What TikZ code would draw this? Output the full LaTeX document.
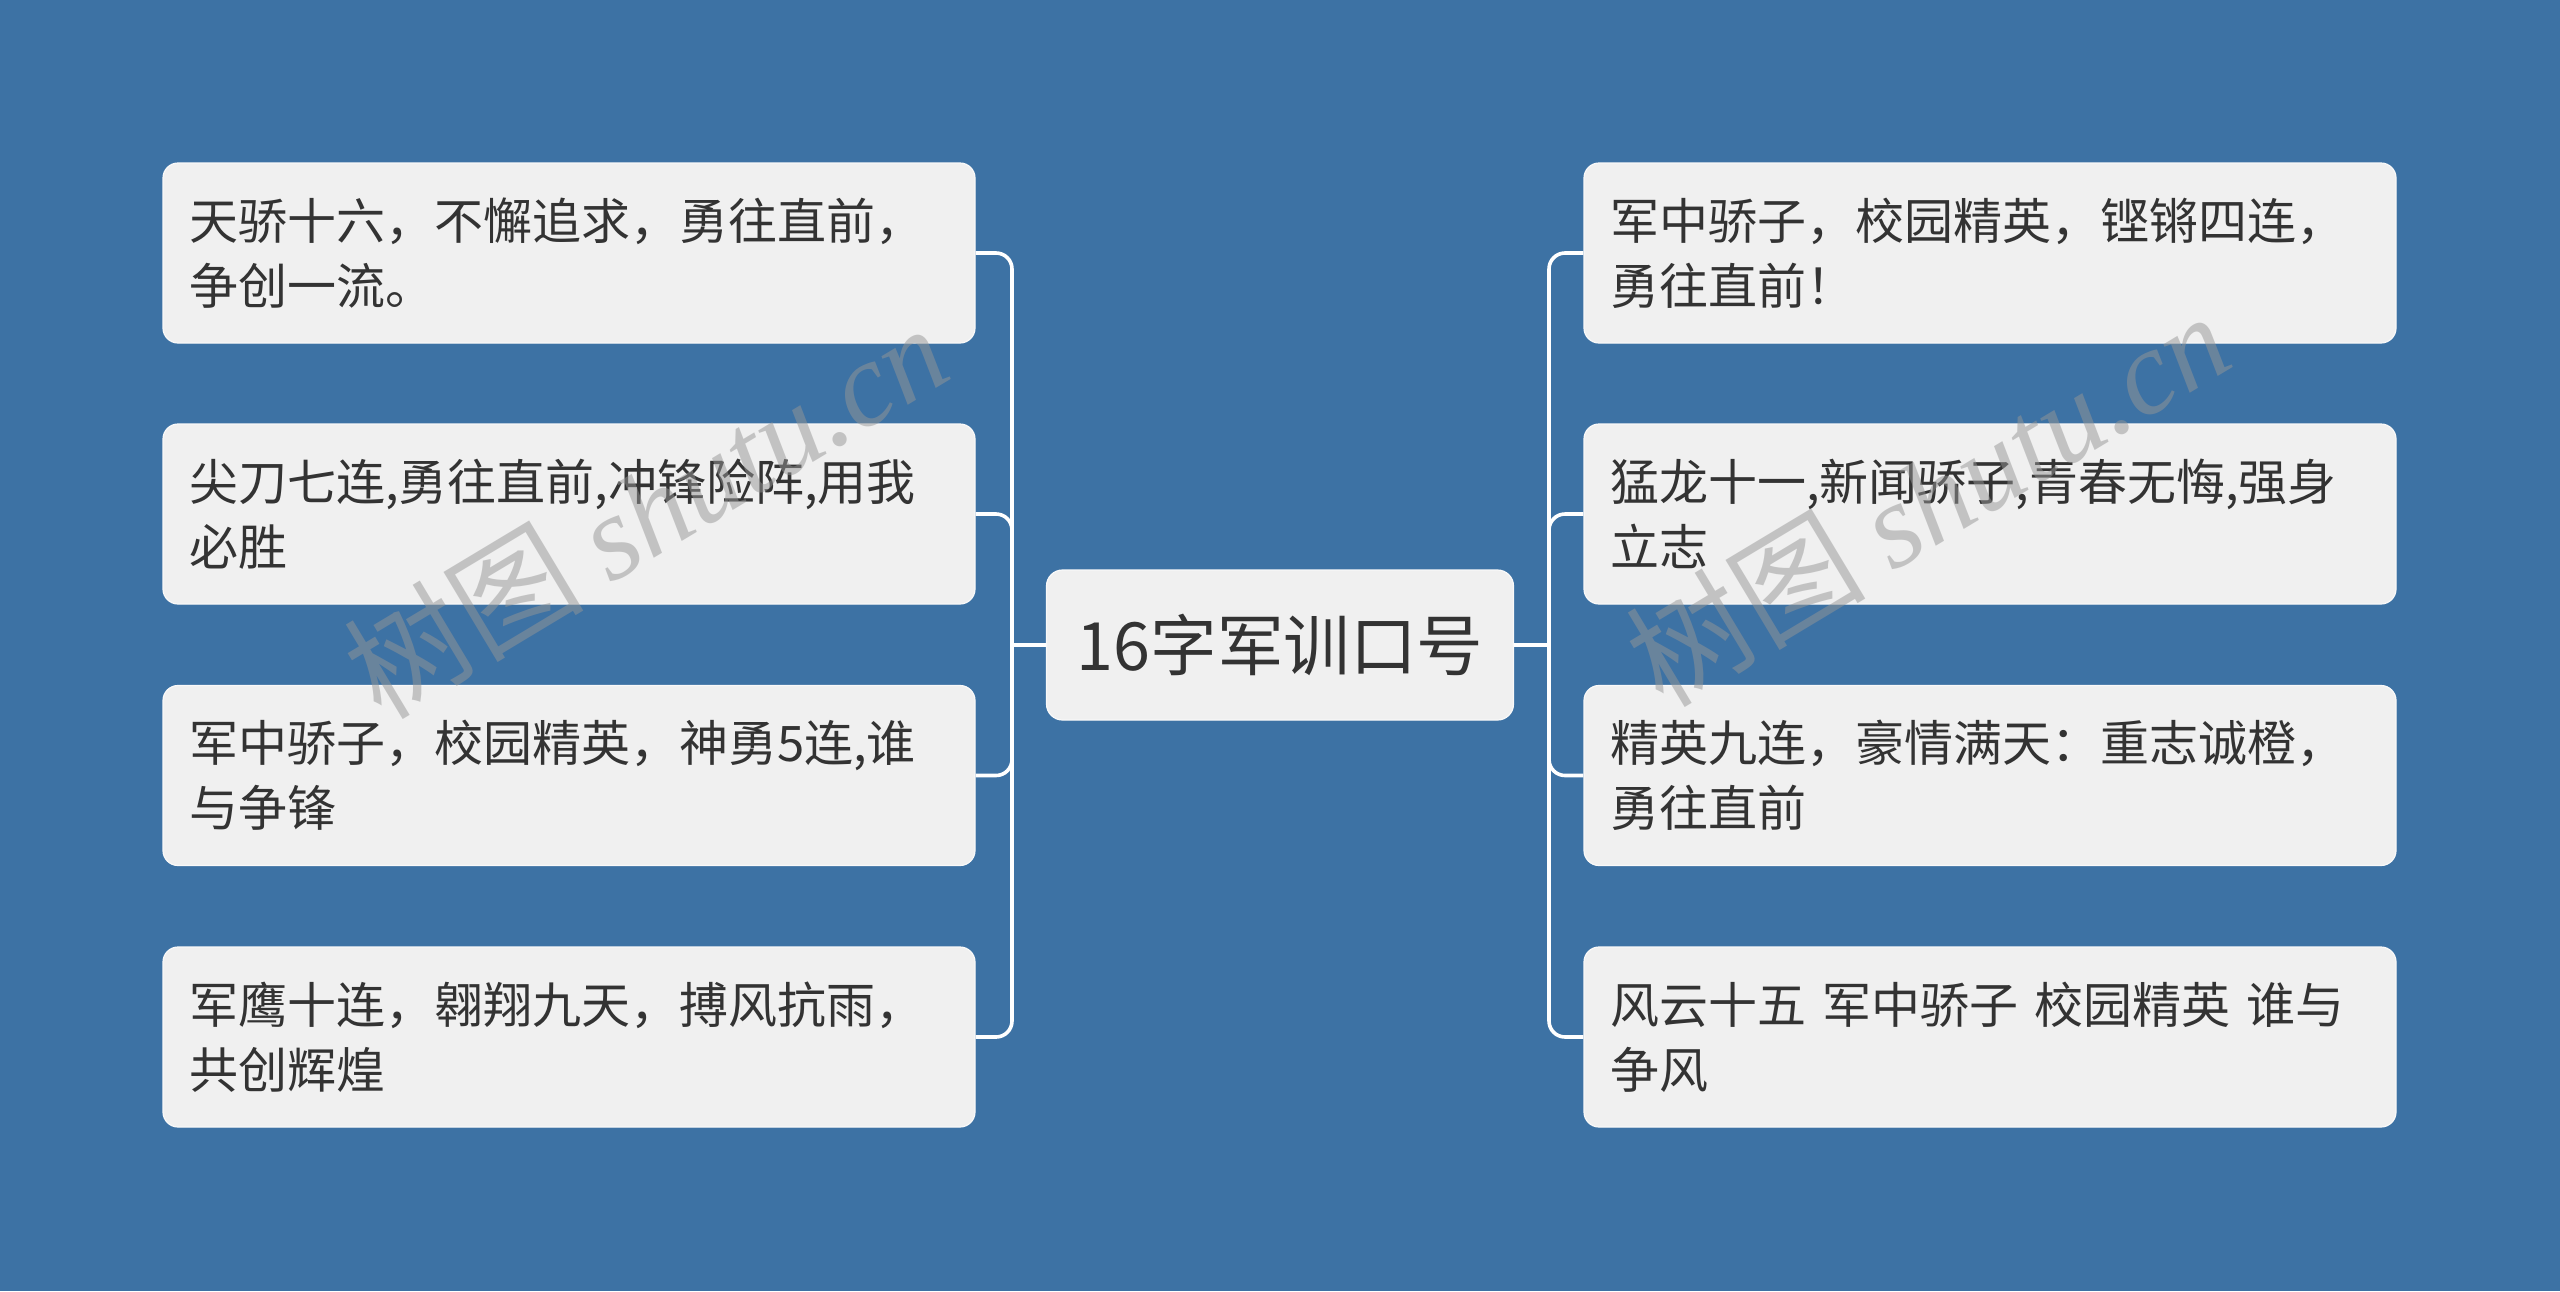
\documentclass[tikz,border=0pt]{standalone}
\usepackage{fontspec}
\setmainfont{Noto Sans CJK SC}
\newfontfamily\wmlatin{Liberation Serif}
\newfontfamily\wmcjk{Noto Sans CJK SC}
\definecolor{bg}{RGB}{61,114,164}
\definecolor{boxfill}{RGB}{240,240,240}
\definecolor{txt}{RGB}{51,51,51}
\definecolor{wm}{RGB}{150,150,150}
\tikzset{
  leaf/.style={draw=white!60!boxfill, line width=0.6pt, fill=boxfill, rounded corners=7.5pt,
    minimum width=406pt, minimum height=90pt, inner sep=0pt, text width=380pt, align=left,
    text=txt, font=\fontsize{24.5}{32.5}\selectfont},
  rootbox/.style={draw=white!60!boxfill, line width=0.6pt, fill=boxfill, rounded corners=8pt,
    minimum width=233.5pt, minimum height=75pt, inner sep=0pt, align=center,
    text=txt, font=\fontsize{33.3}{38}\selectfont},
  link/.style={draw=white, line width=1.8pt, rounded corners=8pt},
  wmark/.style={text=wm, opacity=0.5, rotate=31, font=\fontsize{60}{62}\selectfont}
}
\begin{document}
\begin{tikzpicture}[x=0.5pt,y=-0.5pt]
\fill[bg] (0,0) rectangle (2560,1291);
\useasboundingbox (0,0) rectangle (2560,1291);

\node[rootbox] (root) at (1280,645) {16字军训口号};

\node[leaf] (l1) at (569,253) {天骄十六，不懈追求，勇往直前，\\争创一流。};
\node[leaf] (l2) at (569,514) {尖刀七连,勇往直前,冲锋险阵,用我\\必胜};
\node[leaf] (l3) at (569,775.5) {军中骄子，校园精英，神勇5连,谁\\与争锋};
\node[leaf] (l4) at (569,1037) {军鹰十连，翱翔九天，搏风抗雨，\\共创辉煌};

\node[leaf] (r1) at (1990,253) {军中骄子，校园精英，铿锵四连，\\勇往直前！};
\node[leaf] (r2) at (1990,514) {猛龙十一,新闻骄子,青春无悔,强身\\立志};
\node[leaf] (r3) at (1990,775.5) {精英九连，豪情满天：重志诚橙，\\勇往直前};
\node[leaf] (r4) at (1990,1037) {风云十五 军中骄子 校园精英 谁与\\争风};

\coordinate (jl) at (1012,645);
\coordinate (jr) at (1549,645);

\draw[link] (root.west) -- (jl);
\draw[link] (root.east) -- (jr);
\foreach \n in {l1,l2,l3,l4} { \draw[link] (jl) |- (\n.east); }
\foreach \n in {r1,r2,r3,r4} { \draw[link] (jr) |- (\n.west); }

\node[wmark] (wm1) at (645,510) {{\wmcjk 树图} {\wmlatin\itshape shutu.cn}};
\node[wmark] (wm2) at (1927,498) {{\wmcjk 树图} {\wmlatin\itshape shutu.cn}};
\end{tikzpicture}
\end{document}
